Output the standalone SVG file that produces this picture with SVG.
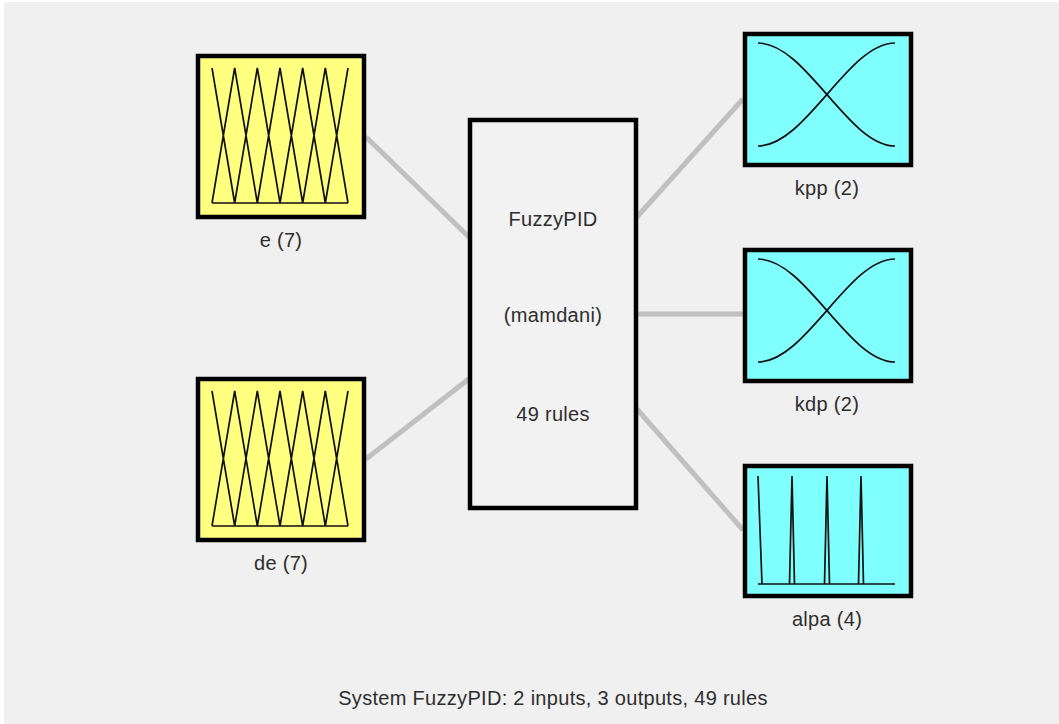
<svg xmlns="http://www.w3.org/2000/svg" xmlns:xlink="http://www.w3.org/1999/xlink" width="1059" height="724" viewBox="0 0 1059 724">
  <style>
    .box { stroke: #000; stroke-width: 4.5; }
    .in { fill: #ffff80; }
    .out { fill: #80ffff; }
    .sys { fill: #f2f2f2; }
    .mf { fill: none; stroke: #111; stroke-width: 1.7; stroke-linejoin: miter; }
    .link { stroke: #c0c0c0; stroke-width: 5; fill: none; }
    text { font-family: "Liberation Sans", Arial, sans-serif; font-size: 20px; letter-spacing: 0.3px; fill: #2e2e2e; text-anchor: middle; }
  </style>
  <defs>
    <!-- seven triangular membership functions -->
    <path id="tri7" class="mf" d="M212,68 L234.67,203 M212,203 L234.67,68 L257.33,203 M234.67,203 L257.33,68 L280,203 M257.33,203 L280,68 L302.67,203 M280,203 L302.67,68 L325.33,203 M302.67,203 L325.33,68 L348,203 M325.33,203 L348,68 M212,203 L348,203"/>
    <!-- two sigmoid-shaped membership functions -->
    <path id="sig2" class="mf" d="M758,43 C806,43 848,146 895,146 M758,146 C806,146 848,43 895,43"/>
  </defs>

  <rect x="0" y="0" width="1059" height="724" fill="#ffffff"/>
  <rect x="4" y="2" width="1055" height="722" fill="#f0f0f0"/>

  <g id="connectors">
    <line class="link" x1="366" y1="137" x2="470" y2="238"/>
    <line class="link" x1="366" y1="459" x2="470" y2="378"/>
    <line class="link" x1="636" y1="218" x2="743" y2="99"/>
    <line class="link" x1="636" y1="314" x2="743" y2="314"/>
    <line class="link" x1="636" y1="408" x2="743" y2="530"/>
  </g>

  <g id="input-e">
    <rect class="box in" x="198" y="56" width="166" height="161"/>
    <use xlink:href="#tri7"/>
    <text x="281" y="247">e (7)</text>
  </g>

  <g id="input-de">
    <rect class="box in" x="198" y="379" width="166" height="161"/>
    <use xlink:href="#tri7" transform="translate(0,323)"/>
    <text x="281" y="570">de (7)</text>
  </g>

  <g id="system">
    <rect class="box sys" x="470" y="120" width="166" height="388"/>
    <text x="553" y="226">FuzzyPID</text>
    <text x="553" y="322">(mamdani)</text>
    <text x="553" y="421">49 rules</text>
  </g>

  <g id="output-kpp">
    <rect class="box out" x="745" y="34" width="166" height="131"/>
    <use xlink:href="#sig2"/>
    <text x="827" y="195">kpp (2)</text>
  </g>

  <g id="output-kdp">
    <rect class="box out" x="745" y="250" width="166" height="131"/>
    <use xlink:href="#sig2" transform="translate(0,216)"/>
    <text x="827" y="411">kdp (2)</text>
  </g>

  <g id="output-alpa">
    <rect class="box out" x="745" y="466" width="166" height="130"/>
    <path class="mf" d="M758,476 L762,584 M789.5,584 L792,476 L794.5,584 M824.5,584 L827,476 L829.5,584 M858.5,584 L861,476 L863.5,584 M758,584 L895,584"/>
    <text x="827" y="626">alpa (4)</text>
  </g>

  <text x="553" y="705">System FuzzyPID: 2 inputs, 3 outputs, 49 rules</text>
</svg>
